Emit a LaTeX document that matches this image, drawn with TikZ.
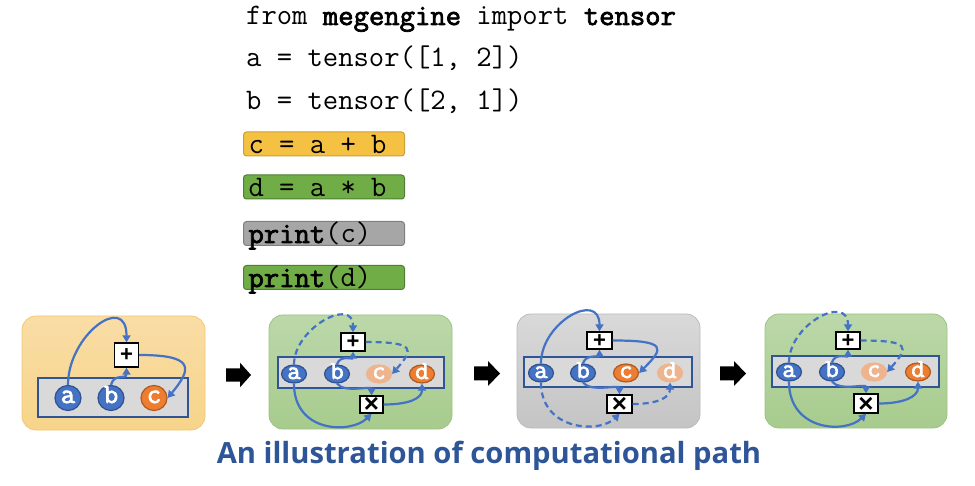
\documentclass[tikz,border=0pt]{standalone}
\usepackage{fontspec}
\setmainfont{Liberation Sans}
\setmonofont{Latin Modern Mono}[BoldFont={Latin Modern Mono}, BoldFeatures={FakeBold=2.5}]
\newfontfamily\titlefont{Open Sans}
\usetikzlibrary{shapes.geometric,arrows.meta}
\definecolor{nblue}{HTML}{4472C4}
\definecolor{nbord}{HTML}{2F528F}
\definecolor{norange}{HTML}{ED7D31}
\definecolor{obord}{HTML}{AE5A21}
\definecolor{ofade}{HTML}{EDB48E}
\definecolor{ablue}{HTML}{4472C4}
\definecolor{igray}{HTML}{D9D9D9}
\definecolor{ibord}{HTML}{2F5597}
\definecolor{cyel}{HTML}{F5C142}
\definecolor{cyelb}{HTML}{C9A03A}
\definecolor{cgrn}{HTML}{70AD47}
\definecolor{cgrnb}{HTML}{507E32}
\definecolor{cgry}{HTML}{A6A6A6}
\definecolor{cgryb}{HTML}{7F7F7F}
\definecolor{titleblue}{HTML}{2E5597}
\definecolor{p1top}{HTML}{F9DDA6}
\definecolor{p1bot}{HTML}{F7D48A}
\definecolor{p1b}{HTML}{F4C870}
\definecolor{p2top}{HTML}{BCD8AA}
\definecolor{p2bot}{HTML}{A7CB8D}
\definecolor{p2b}{HTML}{9CC37F}
\definecolor{p3top}{HTML}{D9D9D9}
\definecolor{p3bot}{HTML}{C4C4C4}
\definecolor{p3b}{HTML}{BBBBBB}
\newcommand\codefill[1]{\makebox[151pt][l]{#1}}
\newcommand\plussym{\raisebox{-3pt}{+}}
\newcommand\timessym{\raisebox{-4.5pt}{\fontsize{26}{26}\selectfont ×}}
\tikzset{
  codetext/.style={inner sep=0pt, font=\ttfamily\fontsize{29.8}{34}\selectfont},
  codebox/.style={codetext, draw, rounded corners=3pt, line width=1pt, anchor=west,
    inner xsep=5pt, inner ysep=0.5pt, minimum width=161pt,
    minimum height=24pt, text height=21pt, text depth=2pt},
  panelbox/.style={rounded corners=14pt, line width=0.8pt},
  innerbox/.style={draw=ibord, fill=igray, line width=1.3pt},
  vnode/.style={ellipse, draw=nbord, fill=nblue, line width=1.2pt, text=white,
    font=\ttfamily\bfseries\fontsize{26}{26}\selectfont, inner sep=0pt,
    text height=10pt, text depth=0pt,
    minimum width=25pt, minimum height=18pt},
  bignode/.style={minimum width=26pt, minimum height=25pt, font=\ttfamily\bfseries\fontsize{28}{28}\selectfont},
  onode/.style={vnode, draw=obord, fill=norange},
  fnode/.style={vnode, draw=ofade, fill=ofade},
  opbox/.style={draw=black, fill=white, line width=1.4pt, inner sep=0pt,
    text height=8pt, text depth=0pt,
    minimum width=24pt, minimum height=18pt, font=\bfseries\fontsize{22}{22}\selectfont},
  flow/.style={draw=ablue, line width=2.2pt, -{Triangle[length=7pt,width=8pt]}},
  dflow/.style={flow, dash pattern=on 6pt off 4pt},
  blockarrow/.style={fill=black},
}
\begin{document}
\begin{tikzpicture}[x=1pt,y=1pt]
\useasboundingbox (0,0) rectangle (975,485);

% ---------- code ----------
\node[codetext, anchor=base west] (l1) at (246,460) {from \textbf{megengine} import \textbf{tensor}};
\node[codetext, anchor=base west] (l2) at (246,418) {a = tensor([1, 2])};
\node[codetext, anchor=base west] (l3) at (246,375) {b = tensor([2, 1])};
\node[codebox, draw=cyelb, fill=cyel] (l4) at (243,341) {\codefill{c = a + b}};
\node[codebox, draw=cgrnb, fill=cgrn] (l5) at (243,298) {\codefill{d = a * b}};
\node[codebox, draw=cgryb, fill=cgry] (l6) at (243,251.5) {\codefill{\textbf{print}(c)}};
\node[codebox, draw=cgrnb, fill=cgrn] (l7) at (243,207.5) {\codefill{\textbf{print}(d)}};

% ---------- panel 1 ----------
\draw[panelbox, draw=p1b, top color=p1top, bottom color=p1bot] (22,55) rectangle (205,169);
\draw[innerbox] (38,68) rectangle (188,107);
\node[vnode, bignode] (a1) at (68,87) {a};
\node[vnode, bignode] (b1) at (111,87) {b};
\node[onode, bignode] (c1) at (154,87) {c};
\node[opbox, minimum height=24pt] (p1) at (126.5,130) {\plussym};
\draw[flow] (a1.north) .. controls +(0,50) and +(0,50) .. (p1.north);
\draw[flow] (b1.north) .. controls +(3,12) and +(0,-12) .. (p1.south);
\draw[flow] (p1.east) .. controls +(55,0) and +(25,30) .. (c1.east);

\fill[blockarrow] (226,103.3) -- (240,103.3) -- (240,97.7) -- (251,110) -- (240,122.3) -- (240,116.7) -- (226,116.7) -- cycle;

% ---------- panel 2 ----------
\draw[panelbox, draw=p2b, top color=p2top, bottom color=p2bot] (269,56) rectangle (452,170);
\draw[innerbox] (278,97) rectangle (444,128);
\node[vnode] (a2) at (294,111) {a};
\node[vnode] (b2) at (337,111) {b};
\node[fnode] (c2) at (379,111) {c};
\node[onode] (d2) at (422,111) {d};
\node[opbox] (p2) at (353,143) {\plussym};
\node[opbox, minimum width=23pt, minimum height=17pt] (t2) at (371.5,80.5) {\timessym};
\draw[dflow] (a2.north) .. controls +(0,36) and +(0,36) .. (p2.north);
\draw[flow] (b2.north) .. controls +(3,10) and +(0,-8) .. (p2.south);
\draw[dflow] (p2.east) .. controls +(50,0) and +(22,25) .. (c2.east);
\draw[flow] (b2.south) .. controls +(8,-10) and +(0,10) .. (t2.north);
\draw[flow] (a2.south) .. controls +(0,-50) and +(-20,-20) .. (t2.south);
\draw[flow] (t2.east) .. controls +(25,0) and +(0,-15) .. (d2.south);

\fill[blockarrow] (474,104.5) -- (488,104.5) -- (488,99) -- (500,111.5) -- (488,124) -- (488,118.5) -- (474,118.5) -- cycle;

% ---------- panel 3 ----------
\draw[panelbox, draw=p3b, top color=p3top, bottom color=p3bot] (517,57) rectangle (700,171);
\draw[innerbox] (524,98) rectangle (692,128);
\node[vnode] (a3) at (541,112) {a};
\node[vnode] (b3) at (583,112) {b};
\node[onode] (c3) at (626,112) {c};
\node[fnode] (d3) at (670,112) {d};
\node[opbox, minimum width=25pt, minimum height=17pt] (p3) at (599.5,144.5) {\plussym};
\node[opbox, minimum width=25pt] (t3) at (619.5,81) {\timessym};
\draw[flow] (a3.north) .. controls +(0,41) and +(0,41) .. (p3.north);
\draw[flow] (b3.north) .. controls +(3,10) and +(0,-8) .. (p3.south);
\draw[flow] (p3.east) .. controls +(55,0) and +(25,25) .. (c3.east);
\draw[flow] (b3.south) .. controls +(8,-10) and +(0,10) .. (t3.north);
\draw[dflow] (a3.south) .. controls +(0,-48) and +(-20,-20) .. (t3.south);
\draw[dflow] (t3.east) .. controls +(25,0) and +(0,-15) .. (d3.south);

\fill[blockarrow] (720,104.5) -- (734,104.5) -- (734,99) -- (746,111.5) -- (734,124) -- (734,118.5) -- (720,118.5) -- cycle;

% ---------- panel 4 ----------
\draw[panelbox, draw=p2b, top color=p2top, bottom color=p2bot] (765,57) rectangle (947,171);
\draw[innerbox] (772,98) rectangle (939,129);
\node[vnode] (a4) at (789,113) {a};
\node[vnode] (b4) at (832,113) {b};
\node[fnode] (c4) at (874,113) {c};
\node[onode] (d4) at (918,113) {d};
\node[opbox, minimum height=17pt] (p4) at (848,144.5) {\plussym};
\node[opbox, minimum height=19pt] (t4) at (866,81.5) {\timessym};
\draw[dflow] (a4.north) .. controls +(0,38) and +(0,38) .. (p4.north);
\draw[flow] (b4.north) .. controls +(3,10) and +(0,-8) .. (p4.south);
\draw[dflow] (p4.east) .. controls +(50,0) and +(22,25) .. (c4.east);
\draw[flow] (b4.south) .. controls +(8,-10) and +(0,10) .. (t4.north);
\draw[flow] (a4.south) .. controls +(0,-50) and +(-20,-20) .. (t4.south);
\draw[flow] (t4.east) .. controls +(25,0) and +(0,-15) .. (d4.south);

% ---------- title ----------
\node[text=titleblue, font=\titlefont\bfseries\fontsize{29.2}{33}\selectfont, inner sep=0pt] (title) at (489,29) {An illustration of computational path};
\end{tikzpicture}
\end{document}
